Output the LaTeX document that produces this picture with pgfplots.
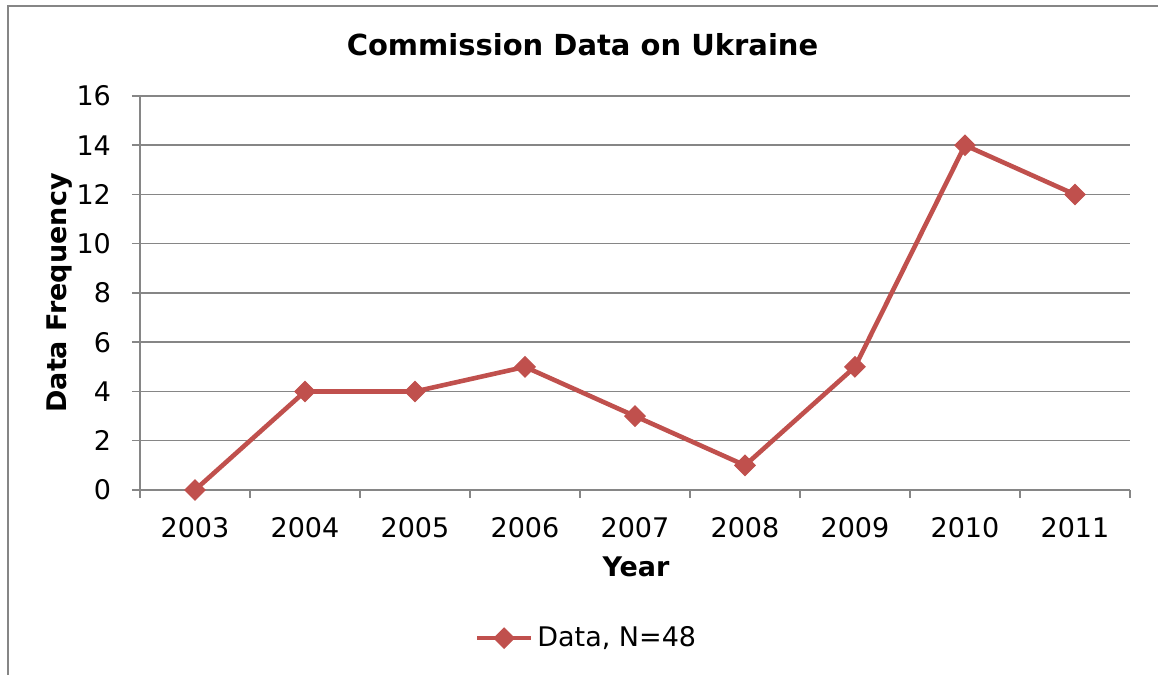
\documentclass[border=0pt]{standalone}
\usepackage{pgfplots}
\pgfplotsset{compat=1.18}
\usepackage{fontspec}
\setmainfont{DejaVu Sans}
\definecolor{axgray}{RGB}{134,134,134}
\definecolor{serred}{RGB}{192,80,77}
\begin{document}
\begin{tikzpicture}
\useasboundingbox (0pt,0pt) rectangle (579pt,337.5pt);
\draw[axgray, line width=0.9pt] (4pt,0pt) -- (4pt,334.5pt) -- (579pt,334.5pt);
\begin{axis}[
  at={(70pt,92.5pt)}, anchor=south west,
  scale only axis, width=495pt, height=197pt,
  xmin=-0.5, xmax=8.5, ymin=0, ymax=16,
  ytick={0,2,...,16},
  xtick={0,...,8},
  xticklabels={2003,2004,2005,2006,2007,2008,2009,2010,2011},
  x tick style={draw=none},
  extra x ticks={-0.5,0.5,...,8.5},
  extra x tick labels={},
  extra x tick style={grid=none, x tick style={draw=axgray, line width=0.75pt}, major tick length=4pt},
  tick align=outside,
  major tick length=4pt,
  y tick style={draw=axgray, line width=0.75pt},
  ymajorgrids, grid style={axgray, line width=0.75pt},
  axis x line*=bottom, axis y line*=left,
  axis line style={axgray, line width=0.75pt, -},
  tick label style={font=\fontsize{13.5}{16}\selectfont},
  /pgf/number format/assume math mode=true,
  yticklabel style={xshift=-7pt},
  xticklabel style={yshift=-6pt},
  xlabel={\textbf{Year}},
  ylabel={\textbf{Data Frequency}},
  label style={font=\fontsize{13.5}{16}\selectfont},
  xlabel style={at={(axis description cs:0.501,-0.195)}, anchor=center},
  ylabel style={at={(axis description cs:-0.081,0.5)}, anchor=center},
  title={\textbf{Commission Data on Ukraine}},
  title style={font=\fontsize{14.5}{17}\selectfont, at={(axis description cs:0.447,1.10)}, anchor=center},
  legend style={draw=none, at={(0.452,-0.376)}, anchor=center, font=\fontsize{13.5}{16}\selectfont},
  legend image code/.code={
    \draw[#1, mark repeat=2, mark phase=2] plot coordinates {(0pt,0pt) (13.5pt,0pt) (27pt,0pt)};
  },
]
\addplot[serred, line width=2.3pt, mark=square*, mark size=3.6pt, mark options={rotate=45, line width=0.5pt}]
  coordinates {(0,0) (1,4) (2,4) (3,5) (4,3) (5,1) (6,5) (7,14) (8,12)};
\addlegendentry{Data, N=48}
\end{axis}
\end{tikzpicture}
\end{document}
